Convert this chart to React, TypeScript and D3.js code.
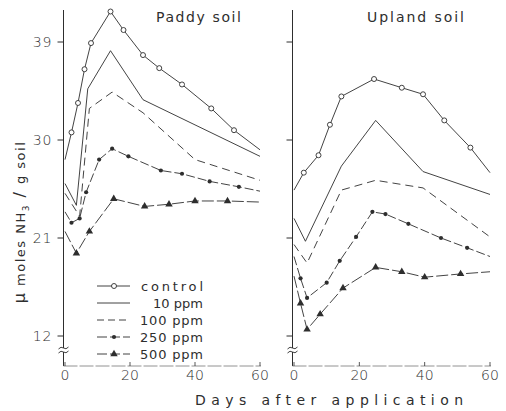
import React from 'react';
import * as d3 from 'd3';

type Pt = [number, number];

// values (day, µmoles NH3 / g soil)
const seriesNames = ['control', '10 ppm', '100 ppm', '250 ppm', '500 ppm'];
const yTicks = [39, 30, 21, 12];
const xTicks = [0, 20, 40, 60];

const paddyControl: Pt[] = [[0, 28.2], [2, 30.7], [4, 33.4], [6, 36.5], [8, 38.9], [14, 41.8], [18, 40.1], [24, 37.8], [29, 36.6], [36, 35.1], [45, 32.9], [52, 30.9], [60, 29.1]];
const paddy10: Pt[] = [[0, 26.0], [3.5, 24.0], [7, 34.7], [14, 38.2], [24, 33.7], [60, 28.5]];
const paddy100: Pt[] = [[0, 25.1], [4.5, 23.0], [7.5, 32.9], [14.5, 34.4], [24, 32.5], [40, 28.2], [60, 26.3]];
const paddy250: Pt[] = [[0, 23.4], [2, 22.4], [4.5, 22.8], [6.5, 25.2], [10.5, 28.2], [14.5, 29.2], [19.5, 28.5], [29.5, 27.2], [36, 26.9], [44.5, 26.2], [53.5, 25.7], [60, 25.3]];
const paddy500: Pt[] = [[0, 21.6], [3.5, 19.6], [7.5, 21.6], [15, 24.6], [24.5, 23.9], [32, 24.1], [40, 24.4], [50, 24.4], [60, 24.3]];

const uplandControl: Pt[] = [[0, 25.4], [3, 27.0], [7.5, 28.6], [11, 31.4], [14.5, 34.0], [24.5, 35.6], [33, 34.8], [39.5, 34.2], [46, 31.8], [54, 29.3], [60, 27.0]];
const upland10: Pt[] = [[0, 22.8], [3.5, 20.7], [14.5, 27.6], [25, 31.8], [39.5, 27.1], [60, 25.0]];
const upland100: Pt[] = [[0, 20.4], [4, 18.7], [14.5, 25.4], [25, 26.3], [39.5, 25.6], [60, 21.1]];
const upland250: Pt[] = [[0, 19.3], [2, 17.3], [4, 15.5], [10, 16.9], [14, 18.9], [19, 21.1], [24, 23.4], [28, 23.2], [35, 22.3], [45, 21.0], [53, 20.1], [60, 19.3]];
const upland500: Pt[] = [[0, 17.5], [2, 15.0], [4, 12.6], [8, 14.0], [15, 16.4], [25, 18.3], [33, 17.9], [40, 17.4], [51, 17.7], [60, 17.9]];

const paddy = [paddyControl, paddy10, paddy100, paddy250, paddy500];
const upland = [uplandControl, upland10, upland100, upland250, upland500];

const INK = '#2e2e2e';
const FONT = '"DejaVu Sans", sans-serif';
const dashes = ['none', 'none', '8,5', '9,3', '12,3'];

const y = d3.scaleLinear().domain([39, 12]).range([42, 336]);
const AXIS_TOP = 10;
const AXIS_BOTTOM = 366;
const BREAK_Y = 350;

const Marker = ({ kind, cx, cy }: { kind: number; cx: number; cy: number }) => {
  if (kind === 0) return <circle cx={cx} cy={cy} r={2.5} fill="#fff" stroke={INK} strokeWidth={0.9} />;
  if (kind === 3) return <circle cx={cx} cy={cy} r={2.1} fill={INK} />;
  if (kind === 4) {
    const tri = d3.symbol(d3.symbolTriangle, 24)();
    return <path d={tri || ''} transform={`translate(${cx},${cy})`} fill={INK} />;
  }
  return null;
};

interface PanelProps {
  left: number;
  right: number;
  title: string;
  titleX: number;
  titleWidth: number;
  data: Pt[][];
  labels: boolean;
}

const Panel = ({ left, right, title, titleX, titleWidth, data, labels }: PanelProps) => {
  const x = d3.scaleLinear().domain([0, 60]).range([left, right]);
  const axisX = left - 1.5;
  const line = d3.line<Pt>().x(d => x(d[0])).y(d => y(d[1]));

  return (
    <g>
      {/* y axis with break */}
      <line x1={axisX} x2={axisX} y1={AXIS_TOP} y2={AXIS_BOTTOM} stroke={INK} strokeWidth={1} />
      <rect x={axisX - 6} y={BREAK_Y - 2} width={12} height={4} fill="#fff" />
      {[-2, 2].map(o => (
        <path key={o} d={`M${axisX - 5},${BREAK_Y + o + 1} q2.5,-3 5,-1 t5,-1`} fill="none" stroke={INK} strokeWidth={0.9} />
      ))}
      {yTicks.map(t => (
        <g key={t}>
          <line x1={axisX - 6} x2={axisX} y1={y(t)} y2={y(t)} stroke={INK} strokeWidth={1} />
          {labels && (
            <text x={axisX - 11} y={y(t)} dy="0.36em" textAnchor="end" fontSize={14} fontFamily={FONT} fill={INK} fontWeight={300} letterSpacing={1}>
              {t}
            </text>
          )}
        </g>
      ))}

      {/* x axis */}
      <line x1={axisX} x2={right + 1} y1={AXIS_BOTTOM} y2={AXIS_BOTTOM} stroke="#777" strokeWidth={0.8} strokeDasharray="14,2" />
      {xTicks.map(t => (
        <g key={t}>
          <line x1={x(t)} x2={x(t)} y1={AXIS_BOTTOM} y2={AXIS_BOTTOM - 4} stroke={INK} strokeWidth={0.8} />
          <text x={x(t)} y={AXIS_BOTTOM + 9} dy="0.36em" textAnchor="middle" fontSize={14} fontFamily={FONT} fill={INK} fontWeight={300}>
            {t}
          </text>
        </g>
      ))}

      <text x={titleX} y={22} fontSize={14} fontFamily={FONT} fill={INK} textLength={titleWidth} lengthAdjust="spacing">
        {title}
      </text>

      {data.map((pts, i) => (
        <g key={i}>
          <path d={line(pts) || ''} fill="none" stroke={INK} strokeWidth={0.9} strokeDasharray={dashes[i]} />
          {pts
            .filter(p => p[0] > 0 && p[0] < 60)
            .map((p, j) => <Marker key={j} kind={i} cx={x(p[0])} cy={y(p[1])} />)}
        </g>
      ))}
    </g>
  );
};

const Legend = () => {
  const legendWidths = [62, 50, 63, 63, 63];
  return (
    <g>
      {seriesNames.map((name, i) => {
        const ly = 286 + i * 17;
        return (
          <g key={name}>
            <line x1={97} x2={130} y1={ly} y2={ly} stroke={INK} strokeWidth={0.9} strokeDasharray={i === 2 ? '7,4' : i > 2 ? '10,3' : 'none'} />
            <Marker kind={i} cx={114} cy={ly} />
            <text x={203} y={ly} dy="0.36em" textAnchor="end" fontSize={13} fontFamily={FONT} fill={INK} textLength={legendWidths[i]} lengthAdjust="spacing">
              {name}
            </text>
          </g>
        );
      })}
    </g>
  );
};

const App = () => (
  <svg width={506} height={411} style={{ position: 'absolute', left: 0, top: 0, background: '#fff' }}>
    <rect width={506} height={411} fill="#fff" />
    <Panel left={65} right={260} title="Paddy soil" titleX={156} titleWidth={85} data={paddy} labels={true} />
    <Panel left={294} right={490} title="Upland soil" titleX={367} titleWidth={97} data={upland} labels={false} />
    <Legend />
    <text transform="translate(25,222) rotate(-90)" textAnchor="middle" fontSize={13} fontFamily={FONT} fill={INK} letterSpacing={1.5}>
      <tspan fontSize={16}>μ</tspan>
      <tspan> moles NH</tspan>
      <tspan fontSize={9} dy={4}>3</tspan>
      <tspan dy={-4} fontSize={16}> / </tspan>
      <tspan>g soil</tspan>
    </text>
    <text x={329} y={400} dy="0.36em" textAnchor="middle" fontSize={14} fontFamily={FONT} fill={INK} textLength={268} lengthAdjust="spacing">
      Days after application
    </text>
  </svg>
);

export default App;
